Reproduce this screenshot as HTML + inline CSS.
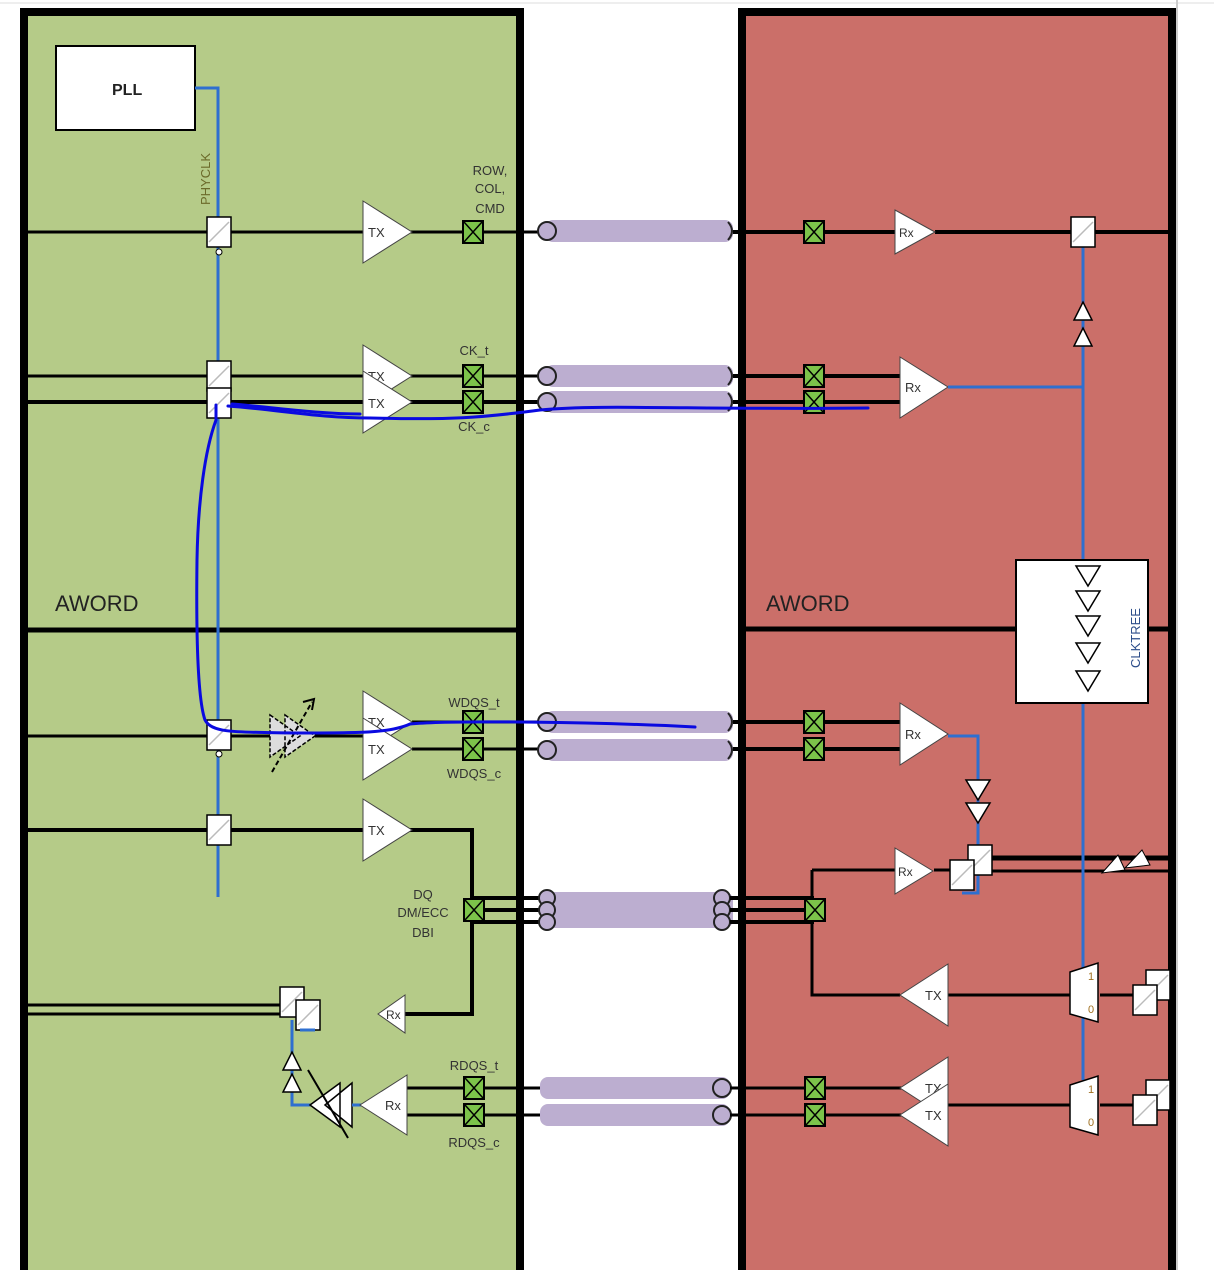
<!DOCTYPE html>
<html><head><meta charset="utf-8"><style>
html,body{margin:0;padding:0;background:#fff;width:1214px;height:1270px;overflow:hidden}
svg text{font-family:"Liberation Sans",sans-serif}
</style></head><body>
<svg width="1214" height="1270" viewBox="0 0 1214 1270" xmlns="http://www.w3.org/2000/svg">
<defs>
<g id="ff"><rect x="-12" y="-15" width="24" height="30" fill="#fff" stroke="#000" stroke-width="1.5"/><line x1="-10" y1="10" x2="10" y2="-10" stroke="#bbb" stroke-width="1.5"/></g>
<g id="pad"><rect x="-10" y="-11" width="20" height="22" fill="#7cc34a" stroke="#000" stroke-width="2"/><path d="M-9,-10L9,10M9,-10L-9,10" stroke="#000" stroke-width="1.5"/></g>
<g id="cab"><rect x="545" y="-11" width="188" height="22" rx="8" fill="#bcaed0"/><circle cx="547" cy="0" r="9" fill="#bcaed0" stroke="#222" stroke-width="2"/><path d="M728,-9 q8,9 0,18" fill="none" stroke="#222" stroke-width="2"/></g>
<g id="txr"><path d="M0,-31L49,0L0,31Z" fill="#fff" stroke="#444" stroke-width="1"/></g>
<g id="txl"><path d="M0,-31L-48,0L0,31Z" fill="#fff" stroke="#444" stroke-width="1"/></g>
<g id="bu"><path d="M-9,8L9,8L0,-10Z" fill="#fff" stroke="#000" stroke-width="1.5"/></g>
<g id="bd"><path d="M-12,-10L12,-10L0,10Z" fill="#fff" stroke="#000" stroke-width="1.5"/></g>
</defs>
<line x1="0" y1="3" x2="1214" y2="3" stroke="#ddd"/>
<line x1="1177" y1="0" x2="1177" y2="1270" stroke="#ccc" stroke-width="2"/>
<!-- panels -->
<rect x="24" y="11" width="498" height="1265" fill="#b5cb88"/>
<rect x="742" y="11" width="430" height="1265" fill="#cb6f69"/>
<path d="M24,1270V12H520V1270" fill="none" stroke="#000" stroke-width="8"/>
<path d="M742,1270V12H1172V1270" fill="none" stroke="#000" stroke-width="8"/>
<line x1="24" y1="630" x2="520" y2="630" stroke="#000" stroke-width="5"/>
<line x1="742" y1="629" x2="1016" y2="629" stroke="#000" stroke-width="5"/>
<line x1="1148" y1="629" x2="1172" y2="629" stroke="#000" stroke-width="5"/>
<text x="55" y="611" font-size="22" fill="#222">AWORD</text>
<text x="766" y="611" font-size="22" fill="#222">AWORD</text>
<!-- PLL -->
<rect x="56" y="46" width="139" height="84" fill="#fff" stroke="#000" stroke-width="2"/>
<text x="112" y="95" font-size="16" font-weight="bold" fill="#222">PLL</text>
<path d="M195,88H218V897" fill="none" stroke="#2e6fd0" stroke-width="3"/>
<text transform="translate(210,205) rotate(-90)" font-size="13" fill="#6b6a2a">PHYCLK</text>
<!-- left wires -->
<g stroke="#000" stroke-width="3" fill="none">
<path d="M28,232H540"/>
<path d="M28,376H540"/>
<path d="M28,402H540" stroke-width="4"/>
<path d="M28,736H270M315,736H365"/>
<path d="M412,722H540M412,749H540"/>
<path d="M28,830H472V1014H405" stroke-width="4"/>
<path d="M473,898H540M473,910H540M473,922H540" stroke-width="4"/>
<path d="M28,1005H290M28,1014H300" stroke-width="3"/>
<path d="M405,1088H540M405,1115H540"/>
</g>
<!-- left components -->
<use href="#ff" x="219" y="232"/><circle cx="219" cy="252" r="3" fill="#fff" stroke="#000"/>
<use href="#ff" x="219" y="376"/><use href="#ff" x="219" y="403"/>
<use href="#ff" x="219" y="735"/><circle cx="219" cy="754" r="3" fill="#fff" stroke="#000"/>
<use href="#ff" x="219" y="830"/>
<use href="#txr" x="363" y="232"/><text x="368" y="237" font-size="13" fill="#333">TX</text>
<use href="#txr" x="363" y="376"/><text x="368" y="381" font-size="13" fill="#333">TX</text>
<use href="#txr" x="363" y="402"/><text x="368" y="408" font-size="13" fill="#333">TX</text>
<use href="#txr" x="363" y="722"/><text x="368" y="727" font-size="13" fill="#333">TX</text>
<use href="#txr" x="363" y="749"/><text x="368" y="754" font-size="13" fill="#333">TX</text>
<use href="#txr" x="363" y="830"/><text x="368" y="835" font-size="13" fill="#333">TX</text>
<path d="M270,715L300,736L270,757Z M285,715L315,736L285,757Z" fill="#ddd" stroke="#000" stroke-width="1.5" stroke-dasharray="4,2"/>
<path d="M272,772L312,702" stroke="#000" stroke-width="2" stroke-dasharray="5,3"/><path d="M303,702L314,699L312,710" fill="none" stroke="#000" stroke-width="2"/>
<use href="#pad" x="473" y="232"/><use href="#pad" x="473" y="376"/><use href="#pad" x="473" y="402"/>
<use href="#pad" x="473" y="722"/><use href="#pad" x="473" y="749"/><use href="#pad" x="474" y="910"/>
<use href="#pad" x="474" y="1088"/><use href="#pad" x="474" y="1115"/>
<g font-size="13" fill="#333" text-anchor="middle">
<text x="490" y="175">ROW,</text><text x="490" y="193">COL,</text><text x="490" y="213">CMD</text>
<text x="474" y="355">CK_t</text><text x="474" y="431">CK_c</text>
<text x="474" y="707">WDQS_t</text><text x="474" y="778">WDQS_c</text>
<text x="423" y="899">DQ</text><text x="423" y="917">DM/ECC</text><text x="423" y="937">DBI</text>
<text x="474" y="1070">RDQS_t</text><text x="474" y="1147">RDQS_c</text>
</g>
<!-- left bottom rx -->
<use href="#ff" x="292" y="1002"/><use href="#ff" x="308" y="1015"/>
<path d="M405,995L378,1014L405,1033Z" fill="#fff" stroke="#444"/><text x="386" y="1019" font-size="12" fill="#333">Rx</text>
<path d="M292,1020V1105H312M300,1030H315" fill="none" stroke="#2e6fd0" stroke-width="3"/>
<use href="#bu" x="292" y="1062"/><use href="#bu" x="292" y="1084"/>
<path d="M310,1105L340,1083L340,1127Z M325,1105L352,1083L352,1127Z" fill="#fff" stroke="#000" stroke-width="1.5"/>
<path d="M348,1138L308,1070" stroke="#000" stroke-width="2"/>
<path d="M352,1105H362" stroke="#2e6fd0" stroke-width="3"/>
<path d="M407,1075L360,1105L407,1135Z" fill="#fff" stroke="#444"/><text x="385" y="1110" font-size="13" fill="#333">Rx</text>
<!-- cables -->
<use href="#cab" y="231"/><use href="#cab" y="376"/><use href="#cab" y="402"/>
<use href="#cab" y="722"/><use href="#cab" y="750"/>
<g><rect x="545" y="892" width="188" height="36" rx="8" fill="#bcaed0"/>
<circle cx="547" cy="898" r="8" fill="#bcaed0" stroke="#222" stroke-width="2"/><circle cx="547" cy="910" r="8" fill="#bcaed0" stroke="#222" stroke-width="2"/><circle cx="547" cy="922" r="8" fill="#bcaed0" stroke="#222" stroke-width="2"/>
<circle cx="722" cy="898" r="8" fill="#bcaed0" stroke="#222" stroke-width="2"/><circle cx="722" cy="910" r="8" fill="#bcaed0" stroke="#222" stroke-width="2"/><circle cx="722" cy="922" r="8" fill="#bcaed0" stroke="#222" stroke-width="2"/></g>
<g><rect x="540" y="1077" width="190" height="22" rx="8" fill="#bcaed0"/><circle cx="722" cy="1088" r="9" fill="#bcaed0" stroke="#222" stroke-width="2"/>
<rect x="540" y="1104" width="190" height="22" rx="8" fill="#bcaed0"/><circle cx="722" cy="1115" r="9" fill="#bcaed0" stroke="#222" stroke-width="2"/></g>
<!-- right wires -->
<g stroke="#000" stroke-width="3" fill="none">
<path d="M733,232H896M935,232H1172" stroke-width="4"/>
<path d="M733,376H900M733,402H900" stroke-width="4"/>
<path d="M733,722H900M733,749H900" stroke-width="4"/>
<path d="M730,898H814M730,910H814M730,922H814" stroke-width="4"/>
<path d="M812,870H895M934,870H960"/>
<path d="M812,870V995H900"/>
<path d="M980,858H1172" stroke-width="5"/><path d="M975,871H1172"/>
<path d="M948,995H1072M1100,995H1140"/>
<path d="M730,1088H902M730,1115H902"/>
<path d="M948,1105H1072M1100,1105H1140"/>
</g>
<use href="#pad" x="814" y="232"/><use href="#pad" x="814" y="376"/><use href="#pad" x="814" y="402"/>
<use href="#pad" x="814" y="722"/><use href="#pad" x="814" y="749"/><use href="#pad" x="815" y="910"/>
<use href="#pad" x="815" y="1088"/><use href="#pad" x="815" y="1115"/>
<path d="M895,210L935,232L895,254Z" fill="#fff" stroke="#444"/><text x="899" y="237" font-size="12" fill="#333">Rx</text>
<path d="M900,357L948,387L900,418Z" fill="#fff" stroke="#444"/><text x="905" y="392" font-size="13" fill="#333">Rx</text>
<path d="M900,703L948,734L900,765Z" fill="#fff" stroke="#444"/><text x="905" y="739" font-size="13" fill="#333">Rx</text>
<path d="M895,848L933,871L895,894Z" fill="#fff" stroke="#444"/><text x="898" y="876" font-size="12" fill="#333">Rx</text>
<use href="#txl" x="948" y="995"/><text x="925" y="1000" font-size="13" fill="#333">TX</text>
<use href="#txl" x="948" y="1088"/><text x="925" y="1093" font-size="13" fill="#333">TX</text>
<use href="#txl" x="948" y="1115"/><text x="925" y="1120" font-size="13" fill="#333">TX</text>
<!-- blue right -->
<path d="M1083,245V1080M948,387H1083M948,736H978V893H962" fill="none" stroke="#2e6fd0" stroke-width="3"/>
<use href="#ff" x="1083" y="232"/>
<use href="#bu" x="1083" y="312"/><use href="#bu" x="1083" y="338"/>
<use href="#bd" x="978" y="790"/><use href="#bd" x="978" y="813"/>
<use href="#ff" x="980" y="860"/><use href="#ff" x="962" y="875"/>
<path d="M1102,873L1118,855L1125,870Z M1125,868L1142,850L1150,865Z" fill="#fff" stroke="#000"/>
<!-- clktree -->
<rect x="1016" y="560" width="132" height="143" fill="#fff" stroke="#000" stroke-width="2"/>
<use href="#bd" x="1088" y="576"/><use href="#bd" x="1088" y="601"/><use href="#bd" x="1088" y="626"/><use href="#bd" x="1088" y="653"/><use href="#bd" x="1088" y="681"/>
<text transform="translate(1140,668) rotate(-90)" font-size="13" fill="#2c4d8a">CLKTREE</text>
<!-- muxes -->
<path d="M1070,972L1098,963V1022L1070,1014Z" fill="#fff" stroke="#000" stroke-width="1.5"/>
<path d="M1070,1085L1098,1076V1135L1070,1127Z" fill="#fff" stroke="#000" stroke-width="1.5"/>
<g font-size="11" fill="#a07020"><text x="1088" y="980">1</text><text x="1088" y="1013">0</text><text x="1088" y="1093">1</text><text x="1088" y="1126">0</text></g>
<use href="#ff" x="1158" y="985"/><use href="#ff" x="1145" y="1000"/>
<use href="#ff" x="1158" y="1095"/><use href="#ff" x="1145" y="1110"/>
<!-- hand-drawn blue -->
<g fill="none" stroke="#0a0ae0" stroke-width="3" stroke-linecap="round">
<path d="M228,406C280,410 320,418 370,418C450,420 480,418 540,410C600,404 700,410 868,408"/>
<path d="M232,404C280,408 320,414 360,414"/>
<path d="M216,405V420C205,450 198,500 197,560C196,640 198,700 205,720C212,734 240,732 300,733C360,733 390,733 410,724C450,720 600,722 695,727"/>
</g>
</svg>
</body></html>
